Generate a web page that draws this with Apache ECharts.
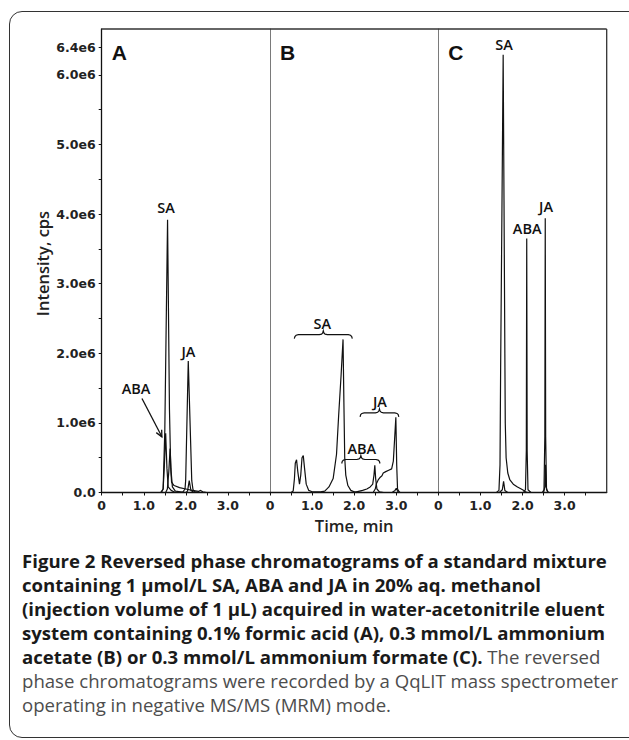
<!DOCTYPE html>
<html><head><meta charset="utf-8">
<script src="https://cdn.jsdelivr.net/npm/echarts@6/dist/echarts.min.js"></script>
<style>
html,body{margin:0;padding:0;background:#fff;width:629px;height:740px;overflow:hidden;}
#frame{position:absolute;left:9px;top:11px;width:640px;height:727px;border:1.5px solid #333;border-radius:13px;box-sizing:border-box;}
#chart{position:absolute;left:0;top:0;width:629px;height:545px;}
#caption{position:absolute;left:22px;top:549px;font-family:"Open Sans",sans-serif;font-size:18.6px;line-height:24px;color:#1a1a1a;white-space:nowrap;}
#caption b{font-weight:700;color:#1a1a1a}
#caption .reg{color:#4d4d4d;font-weight:400}
</style></head><body>
<div id="frame"></div>
<div id="chart"></div>
<div id="caption"><b>Figure 2 Reversed phase chromatograms of a standard mixture</b><br><b>containing 1 µmol/L SA, ABA and JA in 20% aq. methanol</b><br><b>(injection volume of 1 µL) acquired in water-acetonitrile eluent</b><br><b>system containing 0.1% formic acid (A), 0.3 mmol/L ammonium</b><br><b>acetate (B) or 0.3 mmol/L ammonium formate (C).</b><span class="reg"> The reversed</span><br><span class="reg">phase chromatograms were recorded by a QqLIT mass spectrometer</span><br><span class="reg">operating in negative MS/MS (MRM) mode.</span></div>
<script>
// ---- axis ticks (time in min, intensity in 1e6 cps) ----
const timeTicks = [0, 0.5, 1, 1.5, 2, 2.5, 3, 3.5];
const timeLabels = [0, 1, 2, 3];
const intensityTicks = [0, 0.5, 1, 1.5, 2, 2.5, 3, 3.5, 4, 4.5, 5, 5.5, 6, 6.4];
const intensityLabels = [0, 1, 2, 3, 4, 5, 6, 6.4];
const panelNames = ['A', 'B', 'C'];

// ---- Panel A: 0.1% formic acid ----
const panelA_SA = [[0,0],[1.40,0],[1.46,0.05],[1.50,0.9],[1.565,3.92],[1.61,1.2],[1.64,0.35],[1.66,0.15],[1.72,0.1],[1.85,0.07],[2.0,0.05],[2.15,0.03],[2.3,0.015],[2.35,0.03],[2.4,0.01],[2.5,0],[4,0]];
const panelA_ABA = [[0,0],[1.42,0],[1.46,0.05],[1.49,0.4],[1.52,0.85],[1.55,0.35],[1.58,0.08],[1.65,0.03],[1.75,0],[4,0]];
const panelA_minor = [[0,0],[1.52,0],[1.56,0.05],[1.595,0.3],[1.625,0.63],[1.65,0.3],[1.68,0.08],[1.75,0.02],[2.0,0],[2.04,0.02],[2.08,0.17],[2.12,0.03],[2.2,0],[4,0]];
const panelA_JA = [[0,0],[1.92,0],[1.98,0.05],[1.995,0.17],[2.057,1.89],[2.14,0.17],[2.17,0.04],[2.22,0.01],[2.3,0],[4,0]];

// ---- Panel B: 0.3 mmol/L ammonium acetate ----
const panelB_SA = [[0,0],[0.5,0],[0.55,0.02],[0.58,0.2],[0.6,0.42],[0.63,0.47],[0.66,0.3],[0.7,0.12],[0.73,0.25],[0.76,0.5],[0.79,0.53],[0.82,0.35],[0.86,0.12],[0.92,0.03],[1.0,0.01],[1.2,0.01],[1.3,0.02],[1.4,0.08],[1.5,0.2],[1.58,0.55],[1.63,1.1],[1.69,1.7],[1.735,2.2],[1.755,1.3],[1.775,0.5],[1.80,0.25],[1.85,0.1],[1.92,0.03],[2.0,0.01],[2.2,0],[4,0]];
const panelB_ABA = [[0,0],[1.9,0],[2.05,0.01],[2.2,0.03],[2.3,0.05],[2.38,0.08],[2.44,0.12],[2.47,0.25],[2.49,0.39],[2.51,0.2],[2.54,0.05],[2.6,0.01],[2.7,0],[4,0]];
const panelB_JA = [[0,0],[2.45,0],[2.5,0.05],[2.53,0.13],[2.57,0.18],[2.62,0.22],[2.66,0.24],[2.69,0.28],[2.75,0.3],[2.82,0.32],[2.89,0.34],[2.93,0.45],[2.99,1.08],[3.01,0.4],[3.03,0.05],[3.08,0],[4,0]];
const panelB_minor = [[0,0],[2.9,0],[2.97,0.03],[3.0,0.06],[3.04,0.01],[3.1,0],[4,0]];

// ---- Panel C: 0.3 mmol/L ammonium formate ----
const panelC_SA = [[0,0],[1.38,0],[1.44,0.03],[1.465,0.4],[1.48,1.8],[1.51,4.0],[1.54,6.29],[1.56,4.2],[1.58,2.0],[1.59,1.0],[1.61,0.5],[1.65,0.28],[1.7,0.18],[1.78,0.12],[1.88,0.08],[1.97,0.05],[2.03,0.03],[2.07,0.01],[2.12,0],[4,0]];
const panelC_minor = [[0,0],[1.45,0],[1.52,0.04],[1.55,0.16],[1.58,0.03],[1.65,0],[4,0]];
const panelC_ABA = [[0,0],[2.02,0],[2.07,0.04],[2.09,0.6],[2.10,3.65],[2.11,0.6],[2.13,0.04],[2.2,0],[4,0]];
const panelC_JA = [[0,0],[2.47,0],[2.51,0.04],[2.53,0.8],[2.54,3.94],[2.55,0.8],[2.57,0.04],[2.62,0],[4,0]];
const panelC_JAminor = [[0,0],[2.5,0],[2.53,0.08],[2.545,0.4],[2.56,0.08],[2.6,0],[4,0]];

// ---- peak annotations: [text, time, intensity] ----
const labelsA = [['SA',1.53,4.09],['JA',2.06,2.02],['ABA',0.815,1.50]];
const labelsB = [['SA',1.242,2.43],['ABA',2.18,0.63],['JA',2.61,1.31]];
const labelsC = [['SA',1.56,6.44],['ABA',2.11,3.80],['JA',2.56,4.11]];
// braces in panel B: [start time, end time, intensity at brace ends]
const bracesB = [[0.577,1.955,2.21],[1.703,2.613,0.417],[2.14,3.06,1.087]];
// arrow in panel A: [[time,intensity] from, [time,intensity] to]
const arrowA = [[0.957,1.35],[1.43,0.80]];

// ---- layout ----
const plotLeft = 101.7, plotTop = 29, panelW = 168.33, plotH = 463.5, yMax = 6.66;
const ink = '#111';

const chart = echarts.init(document.getElementById('chart'), null, {renderer:'svg'});

const grids = [0,1,2].map(i => ({left: plotLeft + i*panelW, top: plotTop, width: panelW, height: plotH, show:false}));
const xAxes = [0,1,2].map(i => ({
  gridIndex:i, type:'value', min:0, max:4,
  axisLine:{show:true, onZero:false, lineStyle:{color:ink, width:1.3}},
  axisTick:{show:true, customValues: timeTicks, length:3, lineStyle:{color:ink, width:1}},
  axisLabel:{customValues: timeLabels, formatter: v => v === 0 ? '0' : v.toFixed(1),
    fontFamily:'DejaVu Sans', fontWeight:'bold', fontSize:12.5, color:'#222', margin:6},
  splitLine:{show:false}
}));
const yAxes = [0,1,2].map(i => ({
  gridIndex:i, type:'value', min:0, max:yMax,
  axisLine:{show:true, lineStyle:{color: i===0 ? ink : '#7a7a7a', width: i===0 ? 1.3 : 1}},
  axisTick:{show: i===0, customValues: intensityTicks, length:3, lineStyle:{color:ink}},
  axisLabel:{show: i===0, customValues: intensityLabels,
    formatter: v => v === 0 ? '0.0' : v.toFixed(1) + 'e6',
    fontFamily:'DejaVu Sans', fontWeight:'bold', fontSize:12.5, color:'#222', margin:6},
  splitLine:{show:false}
}));

function trace(data, idx) {
  return {type:'line', xAxisIndex:idx, yAxisIndex:idx, data, showSymbol:false, symbol:'none',
    lineStyle:{color:ink, width:1.2}, silent:true, animation:false, z:3};
}
function textSeries(labels, idx) {
  return {type:'custom', xAxisIndex:idx, yAxisIndex:idx, silent:true, animation:false, clip:false, z:5,
    data: labels.map(l => ({value:[l[1], l[2]], name:l[0]})),
    renderItem: (p, api) => {
      const pt = api.coord([api.value(0), api.value(1)]);
      return {type:'text', x:pt[0], y:pt[1], style:{text: labels[p.dataIndex][0],
        fontFamily:'Open Sans', fontWeight:600, fontSize:14.5, fill:ink, align:'center', verticalAlign:'middle'}};
    }};
}
function braceSeries(braces, idx) {
  return {type:'custom', xAxisIndex:idx, yAxisIndex:idx, silent:true, animation:false, clip:false, z:5,
    data: braces,
    renderItem: (p, api) => {
      const a = api.coord([api.value(0), api.value(2)]);
      const b = api.coord([api.value(1), api.value(2)]);
      const x1 = a[0], x2 = b[0], y0 = a[1], xc = (x1 + x2) / 2;
      const pts = [[x1,y0],[x1+0.6,y0-2.2],[x1+1.8,y0-3.4],[x1+4,y0-4],[xc-4,y0-4],[xc-1.8,y0-4.6],[xc-0.6,y0-5.8],[xc,y0-8],
                   [xc+0.6,y0-5.8],[xc+1.8,y0-4.6],[xc+4,y0-4],[x2-4,y0-4],[x2-1.8,y0-3.4],[x2-0.6,y0-2.2],[x2,y0]];
      return {type:'polyline', shape:{points:pts}, style:{stroke:ink, lineWidth:1.2, fill:null}};
    }};
}
function arrowSeries(arrow, idx) {
  return {type:'custom', xAxisIndex:idx, yAxisIndex:idx, silent:true, animation:false, clip:false, z:5,
    data: [[arrow[0][0], arrow[0][1], arrow[1][0], arrow[1][1]]],
    renderItem: (p, api) => {
      const a = api.coord([api.value(0), api.value(1)]);
      const b = api.coord([api.value(2), api.value(3)]);
      const ang = Math.atan2(b[1]-a[1], b[0]-a[0]);
      const hl = 7;
      const h1 = [b[0] - hl*Math.cos(ang - 0.45), b[1] - hl*Math.sin(ang - 0.45)];
      const h2 = [b[0] - hl*Math.cos(ang + 0.45), b[1] - hl*Math.sin(ang + 0.45)];
      return {type:'group', children:[
        {type:'line', shape:{x1:a[0], y1:a[1], x2:b[0], y2:b[1]}, style:{stroke:ink, lineWidth:1.3}},
        {type:'polyline', shape:{points:[h1, b, h2]}, style:{stroke:ink, lineWidth:1.3, fill:null}}
      ]};
    }};
}

const series = [
  trace(panelA_SA,0), trace(panelA_ABA,0), trace(panelA_minor,0), trace(panelA_JA,0),
  trace(panelB_SA,1), trace(panelB_ABA,1), trace(panelB_JA,1), trace(panelB_minor,1),
  trace(panelC_SA,2), trace(panelC_minor,2), trace(panelC_ABA,2), trace(panelC_JA,2), trace(panelC_JAminor,2),
  textSeries(labelsA,0), textSeries(labelsB,1), textSeries(labelsC,2),
  braceSeries(bracesB,1), arrowSeries(arrowA,0)
];

const right = plotLeft + 3*panelW;
const graphic = [
  {type:'line', shape:{x1:plotLeft, y1:plotTop, x2:right, y2:plotTop}, style:{stroke:'#333', lineWidth:1.3}, z:10},
  {type:'line', shape:{x1:right, y1:plotTop, x2:right, y2:plotTop+plotH}, style:{stroke:'#333', lineWidth:1.3}, z:10},
  {type:'text', x:42.5, y:263.5, rotation:Math.PI/2, style:{text:'Intensity, cps', fontFamily:'Open Sans', fontWeight:600, fontSize:16.5, fill:'#222', align:'center', verticalAlign:'middle'}},
  {type:'text', x:plotLeft + 1.5*panelW, y:525.5, style:{text:'Time, min', fontFamily:'Open Sans', fontWeight:600, fontSize:16.5, fill:'#222', align:'center', verticalAlign:'middle'}}
].concat(panelNames.map((n, i) => ({type:'text', x:plotLeft + i*panelW + 10, y:52.5,
  style:{text:n, fontFamily:'Liberation Sans', fontWeight:'bold', fontSize:21, fill:ink, align:'left', verticalAlign:'middle'}})));

chart.setOption({animation:false, grid:grids, xAxis:xAxes, yAxis:yAxes, series, graphic});
</script>
</body></html>
